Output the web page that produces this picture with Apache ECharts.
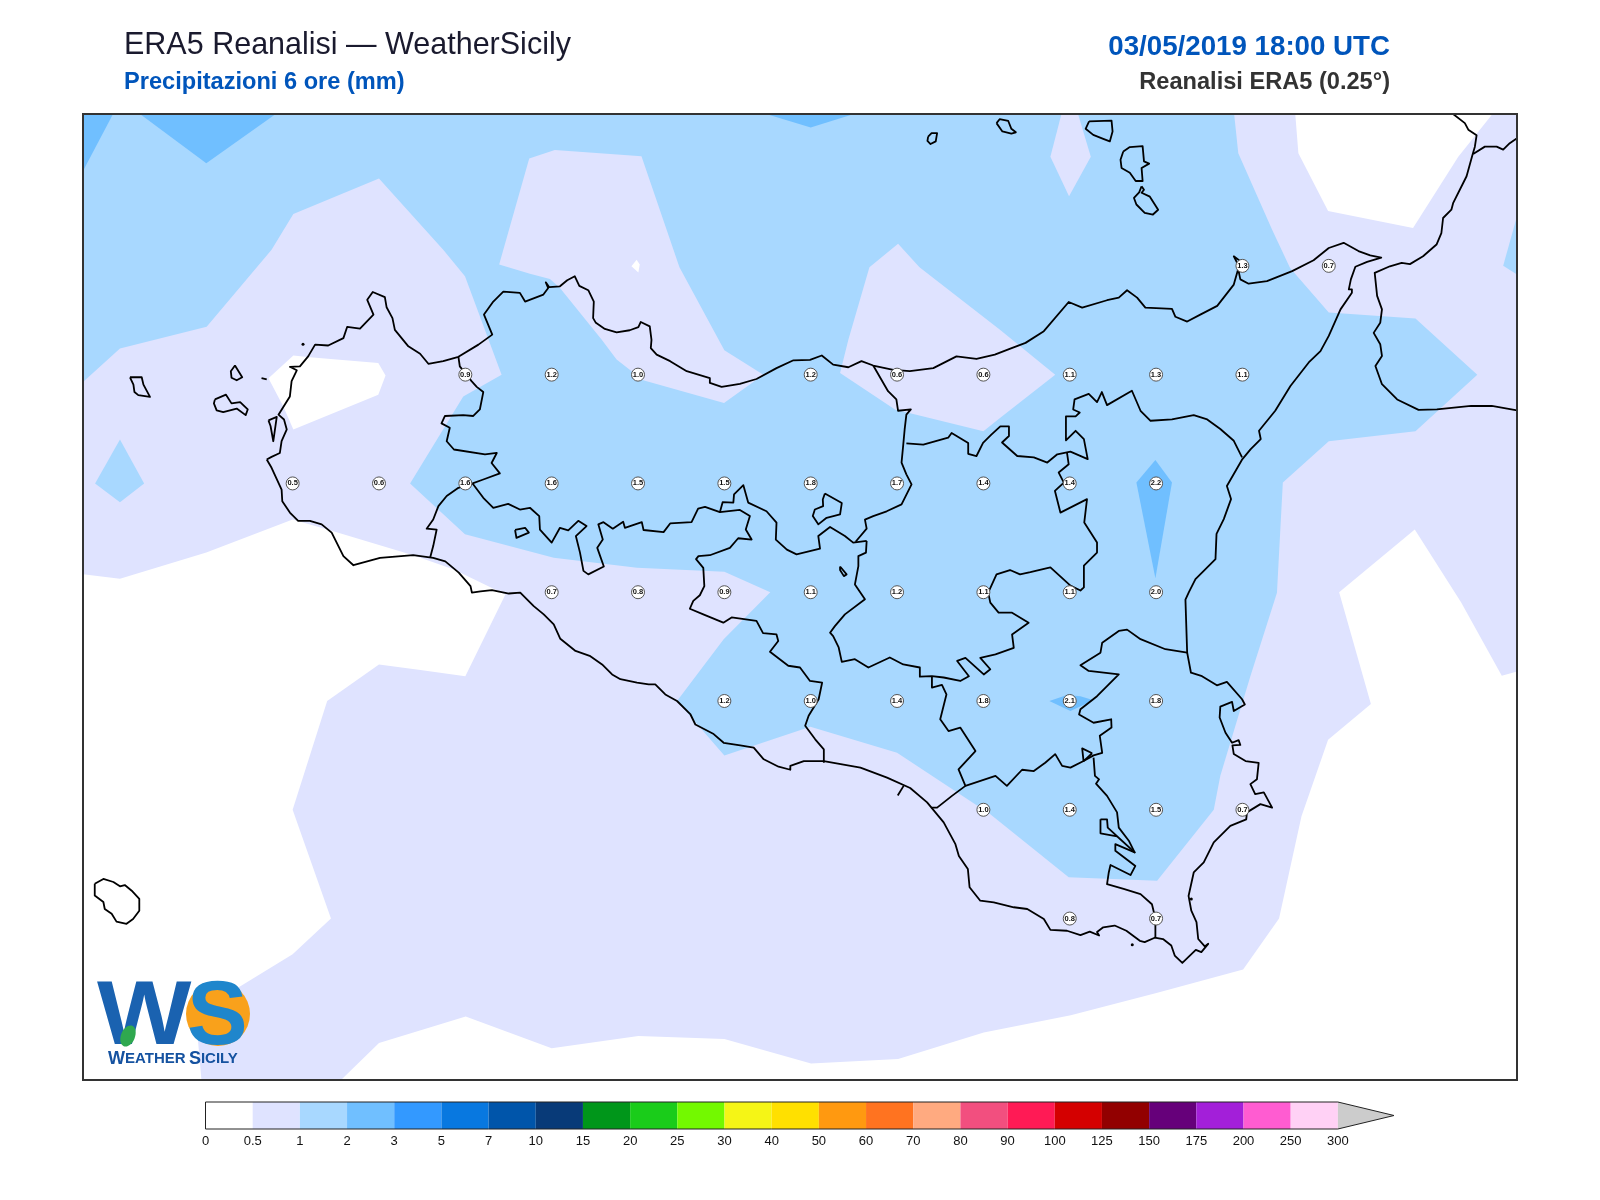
<!DOCTYPE html>
<html>
<head>
<meta charset="utf-8">
<title>ERA5 Reanalisi</title>
<script src="https://cdn.jsdelivr.net/npm/echarts@6/dist/echarts.min.js"></script>
<style>
  html, body { margin: 0; background: #fff; }
  #chart { width: 1600px; height: 1200px; }
</style>
</head>
<body>
<div id="chart"></div>
<script>
// map extent, degrees
const lonRange = [11.893, 16.045]
const latRange = [36.379, 38.599]

// grid point values, one row per latitude: [lon, value]
const row3825 = [[15.25, 1.3], [15.5, 0.7]]
const row3800 = [[13.0, 0.9], [13.25, 1.2], [13.5, 1.0], [14.0, 1.2], [14.25, 0.6], [14.5, 0.6], [14.75, 1.1], [15.0, 1.3], [15.25, 1.1]]
const row3775 = [[12.5, 0.5], [12.75, 0.6], [13.0, 1.6], [13.25, 1.6], [13.5, 1.5], [13.75, 1.5], [14.0, 1.8], [14.25, 1.7], [14.5, 1.4], [14.75, 1.4], [15.0, 2.2]]
const row3750 = [[13.25, 0.7], [13.5, 0.8], [13.75, 0.9], [14.0, 1.1], [14.25, 1.2], [14.5, 1.1], [14.75, 1.1], [15.0, 2.0]]
const row3725 = [[13.75, 1.2], [14.0, 1.0], [14.25, 1.4], [14.5, 1.8], [14.75, 2.1], [15.0, 1.8]]
const row3700 = [[14.5, 1.0], [14.75, 1.4], [15.0, 1.5], [15.25, 0.7]]
const row3675 = [[14.75, 0.8], [15.0, 0.7]]

// colour scale
const cbTicks = ['0', '0.5', '1', '2', '3', '5', '7', '10', '15', '20', '25', '30', '40', '50', '60', '70', '80', '90', '100', '125', '150', '175', '200', '250', '300']
const cbColors = ['#ffffff', '#dfe3ff', '#a8d8ff', '#70bfff', '#3399ff', '#0878e0', '#0055aa', '#083a78', '#00961a', '#1acc1a', '#73f900', '#f5f516', '#ffe000', '#ff9910', '#ff7320', '#ffaa80', '#f24f7f', '#ff1a55', '#d40000', '#920000', '#66007a', '#a31fd9', '#ff5cd1', '#ffd1f5']

// 1-2 mm area
const blueMain = [[11.893,38.599],[15.226,38.599],[15.238,38.509],[15.336,38.333],[15.388,38.245],[15.5,38.143],[15.751,38.129],[15.93,38.0],[15.751,37.87],[15.5,37.847],[15.367,37.752],[15.35,37.499],[15.273,37.307],[15.186,37.078],[15.167,37.0],[15.003,36.837],[14.747,36.845],[14.52,36.99],[14.25,37.131],[13.999,37.191],[13.75,37.125],[13.613,37.25],[13.748,37.392],[13.883,37.5],[13.75,37.547],[13.497,37.556],[13.256,37.579],[12.999,37.633],[12.84,37.75],[12.994,37.95],[13.105,38.0],[12.999,38.226],[12.936,38.287],[12.75,38.451],[12.502,38.369],[12.439,38.287],[12.251,38.11],[12.0,38.06],[11.893,37.983]]
const blueWest = [[12.0,37.851],[12.07,37.75],[12.0,37.707],[11.928,37.75]]
const blueEast = [[16.045,38.364],[16.005,38.25],[16.045,38.23]]

// 0.5-1 mm pockets inside the blue
const lavNorth = [[13.098,38.253],[13.11,38.287],[13.185,38.497],[13.259,38.516],[13.51,38.502],[13.62,38.247],[13.75,38.056],[13.863,38.0],[13.749,37.935],[13.515,37.987],[13.438,38.035],[13.395,38.08],[13.274,38.199],[13.245,38.22],[13.187,38.232]]
const lavCentre = [[14.085,38.004],[14.109,38.08],[14.17,38.247],[14.253,38.301],[14.315,38.247],[14.548,38.103],[14.708,38.0],[14.549,37.901],[14.5,37.87],[14.244,37.92]]
const lavIslands = [[14.726,38.599],[14.774,38.599],[14.811,38.501],[14.748,38.41],[14.694,38.501]]

// 2-3 mm patches
const skyCorner = [[11.893,38.599],[11.98,38.599],[11.893,38.468]]
const skyTopLeft = [[12.058,38.599],[12.25,38.486],[12.451,38.599]]
const skyTop = [[13.871,38.599],[14.0,38.568],[14.125,38.599]]
const skyEtna = [[14.998,37.804],[15.046,37.752],[14.998,37.532],[14.943,37.752]]
const skySouth = [[14.691,37.25],[14.742,37.264],[14.781,37.261],[14.819,37.252],[14.752,37.227]]

// below 0.5 mm
const whiteWest = [[11.893,37.541],[12.0,37.531],[12.25,37.591],[12.5,37.667],[12.613,37.641],[12.849,37.585],[12.965,37.553],[13.116,37.495],[13.0,37.307],[12.87,37.321],[12.75,37.334],[12.6,37.25],[12.5,37.0],[12.611,36.75],[12.5,36.668],[12.338,36.589],[12.222,36.505],[12.236,36.379],[11.893,36.379]]
const whiteSouth = [[12.64,36.379],[12.75,36.464],[13.001,36.525],[13.25,36.452],[13.501,36.48],[13.75,36.473],[14.001,36.417],[14.253,36.427],[14.501,36.488],[14.753,36.528],[15.001,36.579],[15.252,36.633],[15.356,36.75],[15.421,36.985],[15.498,37.161],[15.622,37.243],[15.53,37.5],[15.749,37.644],[15.883,37.477],[16.001,37.308],[16.045,37.318],[16.045,36.379]]
const whiteTrapani = [[12.43,37.992],[12.502,38.044],[12.55,38.04],[12.748,38.027],[12.769,37.998],[12.748,37.954],[12.502,37.874],[12.473,37.927]]
const whiteNorthEast = [[15.403,38.599],[15.412,38.509],[15.498,38.376],[15.744,38.337],[15.875,38.501],[15.974,38.599]]
const whiteSpeck = [[13.481,38.249],[13.496,38.264],[13.505,38.253],[13.501,38.235]]

// coast of Sicily, closed ring
const coastSicily = [[12.425,37.805],[12.439,37.811],[12.463,37.82],[12.468,37.847],[12.483,37.874],[12.475,37.897],[12.459,37.908],[12.492,37.95],[12.497,37.985],[12.512,38.01],[12.492,38.018],[12.521,38.019],[12.545,38.042],[12.565,38.069],[12.603,38.067],[12.647,38.084],[12.658,38.11],[12.695,38.106],[12.734,38.138],[12.716,38.172],[12.732,38.19],[12.767,38.178],[12.772,38.155],[12.789,38.13],[12.796,38.103],[12.835,38.065],[12.869,38.048],[12.893,38.025],[12.936,38.031],[12.98,38.041],[13.038,38.069],[13.078,38.092],[13.054,38.138],[13.081,38.168],[13.11,38.191],[13.158,38.188],[13.173,38.168],[13.226,38.184],[13.24,38.199],[13.233,38.212],[13.243,38.201],[13.274,38.203],[13.295,38.217],[13.317,38.226],[13.33,38.204],[13.356,38.194],[13.372,38.168],[13.37,38.13],[13.378,38.119],[13.404,38.105],[13.438,38.097],[13.476,38.102],[13.501,38.109],[13.508,38.121],[13.534,38.111],[13.539,38.08],[13.537,38.061],[13.554,38.046],[13.593,38.031],[13.641,38.008],[13.708,37.992],[13.708,37.981],[13.742,37.972],[13.795,37.979],[13.843,37.99],[13.901,38.015],[13.95,38.033],[13.998,38.034],[14.032,38.044],[14.065,38.023],[14.109,38.017],[14.147,38.031],[14.181,38.021],[14.239,38.011],[14.287,38.008],[14.355,38.015],[14.422,38.042],[14.48,38.036],[14.533,38.046],[14.578,38.06],[14.622,38.073],[14.675,38.1],[14.747,38.167],[14.786,38.154],[14.858,38.171],[14.892,38.177],[14.916,38.194],[14.945,38.177],[14.969,38.154],[15.046,38.151],[15.056,38.133],[15.09,38.122],[15.128,38.138],[15.177,38.158],[15.225,38.207],[15.24,38.249],[15.225,38.272],[15.242,38.262],[15.24,38.234],[15.244,38.219],[15.268,38.209],[15.321,38.215],[15.394,38.238],[15.456,38.263],[15.5,38.291],[15.543,38.303],[15.586,38.284],[15.62,38.274],[15.652,38.269],[15.611,38.259],[15.577,38.248],[15.564,38.219],[15.558,38.196],[15.567,38.196],[15.567,38.188],[15.534,38.15],[15.5,38.089],[15.476,38.054],[15.442,38.028],[15.389,37.974],[15.345,37.917],[15.298,37.871],[15.303,37.852],[15.274,37.829],[15.25,37.806],[15.205,37.744],[15.217,37.714],[15.196,37.668],[15.175,37.634],[15.172,37.576],[15.138,37.549],[15.114,37.53],[15.095,37.5],[15.085,37.483],[15.09,37.361],[15.101,37.315],[15.133,37.307],[15.176,37.286],[15.205,37.294],[15.249,37.254],[15.257,37.242],[15.225,37.227],[15.22,37.248],[15.186,37.237],[15.184,37.212],[15.201,37.177],[15.22,37.154],[15.239,37.16],[15.244,37.149],[15.221,37.148],[15.225,37.128],[15.259,37.112],[15.297,37.108],[15.292,37.07],[15.273,37.059],[15.287,37.036],[15.312,37.04],[15.336,37.005],[15.302,37.013],[15.263,36.994],[15.261,36.978],[15.215,36.963],[15.167,36.925],[15.138,36.879],[15.109,36.856],[15.094,36.802],[15.102,36.768],[15.117,36.742],[15.122,36.703],[15.141,36.686],[15.151,36.692],[15.131,36.673],[15.115,36.678],[15.076,36.648],[15.054,36.665],[15.044,36.688],[15.02,36.703],[14.996,36.706],[14.967,36.696],[14.953,36.699],[14.914,36.722],[14.88,36.734],[14.847,36.73],[14.829,36.719],[14.835,36.711],[14.808,36.72],[14.781,36.712],[14.742,36.722],[14.694,36.724],[14.675,36.749],[14.627,36.772],[14.588,36.776],[14.53,36.787],[14.491,36.791],[14.46,36.822],[14.455,36.864],[14.429,36.894],[14.419,36.921],[14.385,36.971],[14.337,37.017],[14.288,37.05],[14.221,37.074],[14.144,37.097],[14.038,37.112],[13.98,37.112],[13.941,37.101],[13.941,37.092],[13.907,37.099],[13.864,37.116],[13.835,37.143],[13.796,37.148],[13.748,37.154],[13.719,37.174],[13.666,37.196],[13.652,37.219],[13.613,37.25],[13.579,37.265],[13.55,37.288],[13.531,37.288],[13.497,37.292],[13.449,37.3],[13.425,37.311],[13.396,37.334],[13.362,37.353],[13.319,37.365],[13.275,37.393],[13.256,37.426],[13.227,37.449],[13.198,37.468],[13.159,37.499],[13.126,37.497],[13.077,37.505],[13.044,37.502],[13.019,37.499],[13.015,37.514],[12.981,37.545],[12.942,37.571],[12.907,37.579],[12.849,37.585],[12.753,37.579],[12.676,37.562],[12.647,37.583],[12.613,37.637],[12.584,37.656],[12.55,37.664],[12.516,37.664],[12.492,37.683],[12.47,37.709],[12.468,37.736],[12.439,37.786],[12.425,37.805]]

// islands, closed rings
const isolaLunga = [[12.43,37.895],[12.454,37.903],[12.444,37.847],[12.436,37.882],[12.43,37.895]]
const marettimo = [[12.029,37.994],[12.063,37.994],[12.068,37.977],[12.087,37.949],[12.053,37.953],[12.042,37.96],[12.039,37.977],[12.029,37.994]]
const levanzo = [[12.333,38.021],[12.354,37.994],[12.338,37.987],[12.323,37.993],[12.321,38.008],[12.333,38.021]]
const favignana = [[12.275,37.943],[12.307,37.954],[12.323,37.934],[12.348,37.937],[12.37,37.92],[12.364,37.907],[12.338,37.922],[12.299,37.914],[12.28,37.918],[12.272,37.934],[12.275,37.943]]
const formica = [[12.41,37.992],[12.425,37.989]]
const pantelleria = [[11.927,36.83],[11.952,36.841],[11.981,36.834],[12.0,36.824],[12.014,36.827],[12.034,36.814],[12.056,36.795],[12.056,36.768],[12.038,36.749],[12.019,36.738],[11.99,36.743],[11.976,36.761],[11.956,36.772],[11.952,36.788],[11.927,36.803],[11.927,36.83]]
const alicudi = [[14.34,38.547],[14.35,38.555],[14.366,38.555],[14.362,38.536],[14.347,38.53],[14.338,38.537],[14.34,38.547]]
const filicudi = [[14.538,38.578],[14.547,38.587],[14.572,38.583],[14.581,38.565],[14.594,38.557],[14.581,38.554],[14.555,38.559],[14.538,38.578]]
const salina = [[14.806,38.582],[14.871,38.584],[14.874,38.559],[14.866,38.536],[14.847,38.542],[14.818,38.551],[14.796,38.565],[14.806,38.582]]
const lipari = [[14.905,38.513],[14.924,38.523],[14.961,38.525],[14.965,38.49],[14.98,38.485],[14.958,38.475],[14.961,38.445],[14.941,38.445],[14.924,38.464],[14.9,38.475],[14.897,38.494],[14.905,38.513]]
const vulcano = [[14.958,38.433],[14.965,38.425],[14.958,38.418],[14.982,38.409],[15.006,38.379],[14.991,38.368],[14.967,38.372],[14.943,38.391],[14.936,38.406],[14.951,38.419],[14.958,38.433]]
const specks = [[12.53,38.07],[14.931,36.69],[15.102,36.795]]

// Calabria
const calabriaCoast = [[15.86,38.599],[15.894,38.578],[15.904,38.563],[15.928,38.55],[15.923,38.524],[15.916,38.505],[15.899,38.456],[15.86,38.394],[15.855,38.379],[15.831,38.36],[15.826,38.325],[15.812,38.299],[15.773,38.272],[15.735,38.254],[15.711,38.257],[15.677,38.249],[15.633,38.234],[15.632,38.23],[15.64,38.181],[15.654,38.15],[15.649,38.119],[15.63,38.096],[15.649,38.07],[15.654,38.043],[15.635,38.02],[15.654,37.978],[15.698,37.943],[15.76,37.919],[15.813,37.92],[15.912,37.928],[15.972,37.928],[16.045,37.918]]
const calabriaBorder = [[15.918,38.507],[15.952,38.524],[15.986,38.524],[16.005,38.517],[16.024,38.532],[16.045,38.543]]

// provincial borders
const borderTrapani = [[12.98,38.041],[12.984,38.019],[13.018,37.985],[13.033,37.972],[13.052,37.96],[13.042,37.92],[13.023,37.905],[12.994,37.907],[12.941,37.905],[12.931,37.888],[12.955,37.878],[12.946,37.847],[12.967,37.828],[13.057,37.817],[13.091,37.82],[13.076,37.797],[13.1,37.773],[13.052,37.759],[13.021,37.75],[12.98,37.74],[12.946,37.721],[12.922,37.698],[12.907,37.667],[12.888,37.646],[12.917,37.644],[12.907,37.606],[12.898,37.579]]
const borderAgrigento = [[13.021,37.75],[13.052,37.717],[13.081,37.694],[13.124,37.703],[13.158,37.69],[13.187,37.694],[13.214,37.675],[13.216,37.644],[13.25,37.614],[13.274,37.648],[13.298,37.642],[13.327,37.664],[13.351,37.652],[13.32,37.629],[13.332,37.591],[13.342,37.549],[13.356,37.541],[13.401,37.559],[13.382,37.602],[13.398,37.621],[13.385,37.656],[13.4,37.661],[13.427,37.646],[13.457,37.662],[13.462,37.648],[13.511,37.661],[13.516,37.643],[13.574,37.638],[13.593,37.658],[13.655,37.661],[13.674,37.692],[13.694,37.696],[13.737,37.684],[13.795,37.689],[13.824,37.675],[13.812,37.644],[13.829,37.621],[13.79,37.624],[13.766,37.602],[13.708,37.585],[13.675,37.583],[13.668,37.576],[13.689,37.556],[13.692,37.514],[13.679,37.493],[13.66,37.48],[13.65,37.462],[13.689,37.449],[13.747,37.43],[13.771,37.442],[13.843,37.434],[13.862,37.406],[13.901,37.403],[13.906,37.388],[13.882,37.363],[13.935,37.331],[13.969,37.327],[13.998,37.296],[14.033,37.292],[14.023,37.254],[13.994,37.216],[13.984,37.193],[14.013,37.162],[14.038,37.139],[14.038,37.108]]
const borderPalermoSouth = [[13.737,37.684],[13.745,37.707],[13.776,37.706],[13.778,37.725],[13.805,37.746],[13.819,37.706],[13.872,37.686],[13.901,37.66],[13.899,37.621],[13.931,37.598],[13.959,37.587],[14.027,37.6],[14.022,37.629],[14.056,37.65],[14.099,37.629],[14.123,37.614],[14.162,37.618]]
const borderPalermoEast = [[14.13,37.616],[14.162,37.646],[14.157,37.667],[14.181,37.675],[14.22,37.686],[14.263,37.702],[14.292,37.748],[14.277,37.771],[14.263,37.798],[14.268,37.839],[14.272,37.874],[14.277,37.908],[14.29,37.92],[14.253,37.917],[14.248,37.943],[14.224,37.962],[14.181,38.021]]
const borderMessina = [[14.277,37.842],[14.326,37.839],[14.398,37.855],[14.408,37.866],[14.456,37.843],[14.456,37.818],[14.48,37.813],[14.499,37.843],[14.523,37.862],[14.549,37.881],[14.574,37.881],[14.574,37.859],[14.554,37.844],[14.598,37.813],[14.646,37.81],[14.685,37.798],[14.714,37.817],[14.752,37.823],[14.802,37.806],[14.791,37.852],[14.767,37.871],[14.739,37.849],[14.739,37.904],[14.767,37.904],[14.779,37.913],[14.76,37.92],[14.764,37.943],[14.805,37.956],[14.829,37.937],[14.843,37.96],[14.858,37.93],[14.93,37.963],[14.955,37.917],[14.984,37.894],[15.046,37.897],[15.109,37.907],[15.148,37.897],[15.186,37.875],[15.225,37.848],[15.249,37.81]]
const borderEnnaEast = [[14.742,37.821],[14.747,37.794],[14.718,37.775],[14.733,37.752],[14.707,37.733],[14.723,37.683],[14.8,37.714],[14.792,37.66],[14.829,37.614],[14.829,37.591],[14.791,37.561],[14.791,37.511],[14.781,37.504],[14.752,37.515],[14.694,37.557],[14.636,37.546],[14.606,37.541],[14.577,37.551],[14.538,37.541],[14.514,37.499],[14.52,37.476],[14.544,37.453],[14.583,37.453],[14.631,37.43],[14.583,37.403],[14.588,37.372],[14.535,37.357],[14.491,37.349],[14.52,37.323],[14.501,37.311],[14.448,37.349],[14.424,37.342],[14.458,37.307],[14.433,37.296],[14.385,37.304],[14.351,37.307],[14.316,37.306],[14.316,37.327],[14.268,37.334],[14.229,37.35],[14.167,37.327],[14.128,37.346],[14.09,37.34],[14.081,37.373],[14.065,37.399],[14.056,37.407],[14.07,37.422],[14.099,37.449],[14.157,37.484],[14.128,37.518],[14.138,37.56],[14.138,37.583],[14.16,37.591],[14.162,37.618]]
const borderCatania = [[15.09,37.361],[15.027,37.369],[14.955,37.392],[14.916,37.414],[14.892,37.411],[14.844,37.384],[14.839,37.361],[14.781,37.332],[14.805,37.319],[14.892,37.311],[14.858,37.284],[14.829,37.261],[14.781,37.231],[14.777,37.219],[14.819,37.2],[14.87,37.208],[14.871,37.189],[14.837,37.17],[14.844,37.131],[14.819,37.125],[14.79,37.112],[14.752,37.097],[14.728,37.101],[14.708,37.128],[14.679,37.108],[14.646,37.089],[14.612,37.092],[14.568,37.055],[14.535,37.078],[14.448,37.055],[14.428,37.093],[14.477,37.135],[14.433,37.189],[14.399,37.181],[14.375,37.208],[14.393,37.265],[14.38,37.287],[14.351,37.281],[14.351,37.307]]
const borderGela = [[14.448,37.055],[14.409,37.032],[14.366,37.005],[14.349,37.005]]
const borderRagusa = [[14.819,37.12],[14.823,37.078],[14.835,37.07],[14.826,37.06],[14.858,37.032],[14.887,36.994],[14.892,36.959],[14.921,36.929],[14.938,36.902],[14.882,36.921],[14.882,36.906],[14.94,36.871],[14.926,36.85],[14.868,36.873],[14.863,36.856],[14.858,36.829],[14.906,36.818],[14.955,36.806],[14.988,36.783],[14.998,36.75],[14.998,36.707]]
const shortTick = [[14.269,37.055],[14.252,37.033]]

// lakes and enclaves, closed rings
const enclave = [[14.041,37.727],[14.09,37.705],[14.085,37.679],[14.046,37.671],[14.022,37.656],[14.006,37.675],[14.012,37.69],[14.036,37.698],[14.035,37.713],[14.041,37.727]]
const enclaveWest = [[13.144,37.643],[13.173,37.648],[13.184,37.637],[13.148,37.625],[13.144,37.643]]
const lakeEnna = [[14.085,37.559],[14.104,37.541],[14.096,37.537],[14.085,37.551],[14.085,37.559]]
const lakeSiracusa = [[14.839,36.978],[14.858,36.978],[14.86,36.959],[14.938,36.902],[14.887,36.939],[14.839,36.946],[14.839,36.978]]
const lakeLentini = [[14.815,37.13],[14.786,37.141],[14.79,37.112],[14.815,37.13]]

const fillLayers = [
  { color: cbColors[0], rings: [whiteWest, whiteSouth, whiteTrapani, whiteNorthEast] },
  { color: cbColors[2], rings: [blueMain, blueWest, blueEast] },
  { color: cbColors[1], rings: [lavNorth, lavCentre, lavIslands] },
  { color: cbColors[0], rings: [whiteSpeck] },
  { color: cbColors[3], rings: [skyCorner, skyTopLeft, skyTop, skyEtna, skySouth] }
]
const outlines = [coastSicily, isolaLunga, marettimo, levanzo, favignana, formica, pantelleria, alicudi, filicudi, salina, lipari, vulcano, calabriaCoast, calabriaBorder, borderTrapani, borderAgrigento, borderPalermoSouth, borderPalermoEast, borderMessina, borderEnnaEast, borderCatania, borderGela, borderRagusa, shortTick, enclave, enclaveWest, lakeEnna, lakeSiracusa, lakeLentini]

const stationRows = [[38.25, row3825], [38.0, row3800], [37.75, row3775], [37.5, row3750], [37.25, row3725], [37.0, row3700], [36.75, row3675]]
const stations = []
stationRows.forEach(([lat, row]) => row.forEach(([lon, val]) => stations.push([lon, lat, val])))

const fillSeries = fillLayers.map((layer, n) => ({
  type: 'custom',
  xAxisIndex: 0,
  yAxisIndex: 0,
  clip: true,
  silent: true,
  z: 2 + n,
  data: layer.rings.map(r => r[0]),
  renderItem: (params, api) => ({
    type: 'polygon',
    shape: { points: layer.rings[params.dataIndex].map(p => api.coord(p)) },
    style: { fill: layer.color }
  })
}))

const outlineSeries = outlines.map(line => ({
  type: 'line',
  xAxisIndex: 0,
  yAxisIndex: 0,
  data: line,
  showSymbol: false,
  silent: true,
  z: 10,
  lineStyle: { color: '#000', width: 1.8, join: 'round' }
}))

const speckSeries = {
  type: 'scatter',
  xAxisIndex: 0,
  yAxisIndex: 0,
  data: specks,
  symbolSize: 3,
  silent: true,
  z: 10,
  itemStyle: { color: '#000', opacity: 1 }
}

const stationSeries = {
  type: 'scatter',
  xAxisIndex: 0,
  yAxisIndex: 0,
  data: stations,
  symbolSize: 13,
  silent: true,
  z: 12,
  itemStyle: { color: '#fff', borderColor: '#555', borderWidth: 1, opacity: 1 },
  label: {
    show: true,
    position: 'inside',
    formatter: p => p.value[2].toFixed(1),
    fontFamily: 'Liberation Sans',
    fontWeight: 'bold',
    fontSize: 7.5,
    color: '#111'
  }
}

const frameSeries = {
  type: 'custom',
  xAxisIndex: 0,
  yAxisIndex: 0,
  clip: false,
  silent: true,
  z: 20,
  data: [[lonRange[0], latRange[1]]],
  renderItem: (params, api) => {
    const a = api.coord([lonRange[0], latRange[1]])
    const b = api.coord([lonRange[1], latRange[0]])
    return {
      type: 'rect',
      shape: { x: a[0], y: a[1], width: b[0] - a[0], height: b[1] - a[1] },
      style: { fill: 'none', stroke: '#333', lineWidth: 2 }
    }
  }
}

const colorbarSeries = {
  type: 'custom',
  xAxisIndex: 1,
  yAxisIndex: 1,
  clip: false,
  silent: true,
  data: cbColors.map((c, i) => [i, 0]),
  renderItem: (params, api) => {
    const a = api.coord([params.dataIndex, 1])
    const b = api.coord([params.dataIndex + 1, 0])
    return {
      type: 'rect',
      shape: { x: a[0], y: a[1], width: b[0] - a[0], height: b[1] - a[1] },
      style: { fill: cbColors[params.dataIndex] }
    }
  }
}

const colorbarArrow = {
  type: 'custom',
  xAxisIndex: 1,
  yAxisIndex: 1,
  clip: false,
  silent: true,
  data: [[24, 0]],
  renderItem: (params, api) => ({
    type: 'polygon',
    shape: { points: [[24, 0], [25.19, 0.5], [24, 1]].map(p => api.coord(p)) },
    style: { fill: '#cccccc' }
  })
}

const colorbarFrame = {
  type: 'custom',
  xAxisIndex: 1,
  yAxisIndex: 1,
  clip: false,
  silent: true,
  z: 3,
  data: [[0, 0]],
  renderItem: (params, api) => ({
    type: 'polygon',
    shape: { points: [[0, 0], [24, 0], [25.19, 0.5], [24, 1], [0, 1]].map(p => api.coord(p)) },
    style: { fill: 'none', stroke: '#222', lineWidth: 1 }
  })
}

const logo = [
  { type: 'circle', z: 30, shape: { cx: 218, cy: 1014, r: 32 }, style: { fill: '#f9a11b' } },
  { type: 'text', z: 31, x: 97, y: 973, scaleX: 1.1, scaleY: 1, style: { text: 'W', font: 'bold 91px "Liberation Sans"', fill: '#1a62b0' } },
  { type: 'text', z: 31, x: 187, y: 973, style: { text: 'S', font: 'bold 91px "Liberation Sans"', fill: '#1f86cc' } },
  { type: 'ellipse', z: 32, shape: { cx: 128, cy: 1036, rx: 7, ry: 11 }, rotation: -0.4, originX: 128, originY: 1036, style: { fill: '#2fa84f' } },
  {
    type: 'text', z: 31, x: 108, y: 1050,
    style: {
      text: '{a|W}{b|EATHER} {a|S}{b|ICILY}',
      fill: '#1552a0',
      rich: {
        a: { font: 'bold 18px "Liberation Sans"', fill: '#1552a0' },
        b: { font: 'bold 15px "Liberation Sans"', fill: '#1552a0' }
      }
    }
  }
]

const option = {
  animation: false,
  backgroundColor: '#fff',
  title: [
    { text: 'ERA5 Reanalisi — WeatherSicily', left: 119, top: 25, textStyle: { fontFamily: 'Liberation Sans', fontWeight: 'normal', fontSize: 30.5, color: '#1a1a2e' } },
    { text: 'Precipitazioni 6 ore (mm)', left: 119, top: 65, textStyle: { fontFamily: 'Liberation Sans', fontWeight: 'bold', fontSize: 23.6, color: '#0055bb' } },
    { text: '03/05/2019 18:00 UTC', right: 205, top: 28, textStyle: { fontFamily: 'Liberation Sans', fontWeight: 'bold', fontSize: 27.7, color: '#0055bb' } },
    { text: 'Reanalisi ERA5 (0.25°)', right: 205, top: 65, textStyle: { fontFamily: 'Liberation Sans', fontWeight: 'bold', fontSize: 23.6, color: '#333' } }
  ],
  grid: [
    { left: 83, top: 114, width: 1434, height: 966, show: true, backgroundColor: cbColors[1], borderWidth: 0 },
    { left: 205.5, top: 1102, width: 1188.5, height: 27, show: false }
  ],
  xAxis: [
    { type: 'value', gridIndex: 0, min: lonRange[0], max: lonRange[1], show: false },
    {
      type: 'value', gridIndex: 1, min: 0, max: 25.19,
      splitLine: { show: false },
      axisLine: { show: false },
      axisTick: { show: false },
      axisLabel: {
        customValues: cbTicks.map((t, i) => i),
        formatter: v => cbTicks[v],
        fontFamily: 'Liberation Sans',
        fontSize: 13,
        color: '#111',
        margin: 6,
        hideOverlap: false
      }
    }
  ],
  yAxis: [
    { type: 'value', gridIndex: 0, min: latRange[0], max: latRange[1], show: false },
    { type: 'value', gridIndex: 1, min: 0, max: 1, show: false }
  ],
  graphic: logo,
  series: [...fillSeries, ...outlineSeries, speckSeries, stationSeries, frameSeries, colorbarSeries, colorbarArrow, colorbarFrame]
}

const chart = echarts.init(document.getElementById('chart'))
chart.setOption(option)
</script>
</body>
</html>
